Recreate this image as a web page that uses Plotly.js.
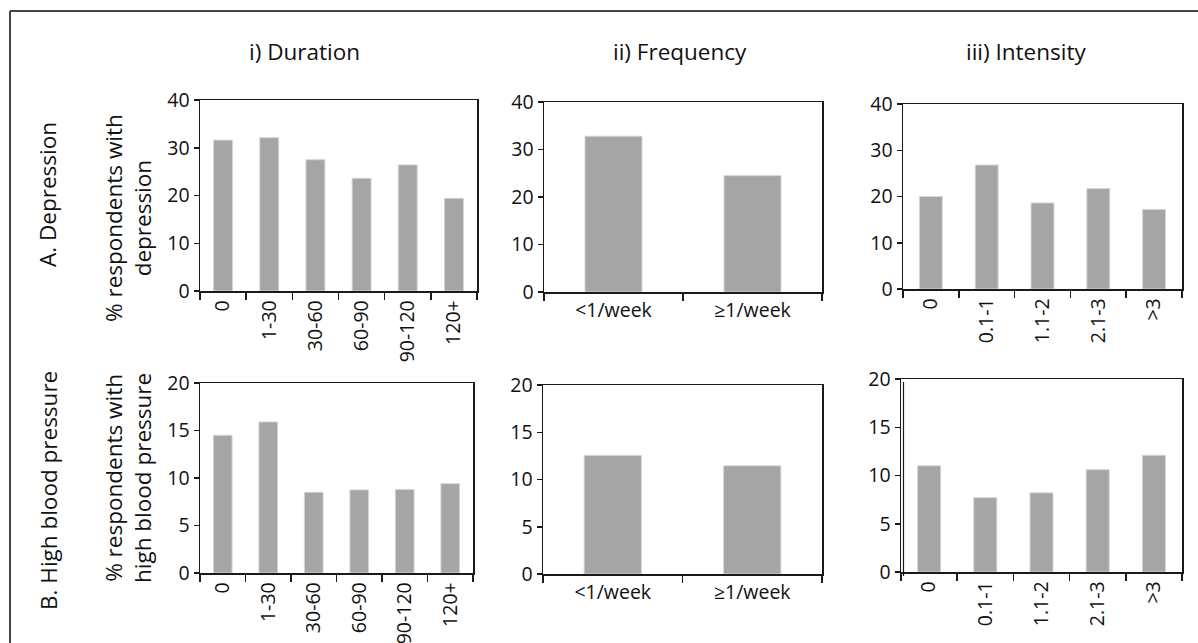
<!DOCTYPE html>
<html>
<head>
<meta charset="utf-8">
<script src="https://cdn.plot.ly/plotly-3.0.1.min.js"></script>
<style>html,body{margin:0;padding:0;background:#fff}#chart{width:1198px;height:643px}</style>
</head>
<body>
<div id="chart"></div>
<script>
// ---- data ----
const durationCats = ["0", "1-30", "30-60", "60-90", "90-120", "120+"];
const frequencyCats = ["<1/week", "≥1/week"];
const intensityCats = ["0", "0.1-1", "1.1-2", "2.1-3", ">3"];

const depDuration = [31.6, 32.1, 27.5, 23.6, 26.4, 19.4];
const depFrequency = [32.8, 24.5];
const depIntensity = [20.0, 26.8, 18.6, 21.7, 17.2];

const bpDuration = [14.5, 15.9, 8.5, 8.75, 8.8, 9.4];
const bpFrequency = [12.55, 11.45];
const bpIntensity = [11.0, 7.7, 8.2, 10.6, 12.1];

const colTitles = ["i) Duration", "ii) Frequency", "iii) Intensity"];
const rowTitles = ["A. Depression", "B. High blood pressure"];
const yTitles = ["% respondents with<br>depression", "% respondents with<br>high blood pressure"];
const yTicksA = [0, 10, 20, 30, 40];
const yTicksB = [0, 5, 10, 15, 20];

// ---- layout helpers ----
const W = 1198, H = 643;
const px = x => x / W;
const py = y => 1 - y / H;
const tickFont = {family: "Open Sans, sans-serif", size: 19.5, color: "#111"};
const barColor = "#a5a5a5";

function bars(cats, vals, i) {
  return {
    type: "bar", x: cats, y: vals,
    xaxis: "x" + (i === 1 ? "" : i), yaxis: "y" + (i === 1 ? "" : i),
    marker: {color: barColor, line: {color: "#d4d4d4", width: 1}},
    hoverinfo: "x+y", showlegend: false
  };
}

const data = [
  bars(durationCats, depDuration, 1),
  bars(frequencyCats, depFrequency, 2),
  bars(intensityCats, depIntensity, 3),
  bars(durationCats, bpDuration, 4),
  bars(frequencyCats, bpFrequency, 5),
  bars(intensityCats, bpIntensity, 6)
];

// pixel boxes [x0, x1, yTop, yBottom]
const boxes = [
  [200, 477, 100, 291],
  [544, 822, 102, 292],
  [903, 1182, 104, 289],
  [200, 473, 383, 573],
  [543, 822, 385, 574],
  [901, 1182, 379, 572]
];
const cats = [durationCats, frequencyCats, intensityCats, durationCats, frequencyCats, intensityCats];

const layout = {
  width: W, height: H,
  margin: {l: 0, r: 0, t: 0, b: 0},
  paper_bgcolor: "#fff", plot_bgcolor: "#fff",
  bargap: 0.59,
  showlegend: false,
  annotations: [],
  shapes: [
    {type: "line", xref: "paper", yref: "paper", x0: px(10), x1: px(1198), y0: py(11), y1: py(11), line: {color: "#444", width: 2}},
    {type: "line", xref: "paper", yref: "paper", x0: px(10), x1: px(10), y0: py(11), y1: py(643), line: {color: "#444", width: 2}},
    {type: "line", xref: "paper", yref: "paper", x0: px(903.5), x1: px(903.5), y0: py(382), y1: py(576), line: {color: "#1a1a1a", width: 1.2}}
  ]
};

boxes.forEach((b, k) => {
  const i = k + 1;
  const sfx = i === 1 ? "" : String(i);
  const isA = k < 3;
  const isFreq = (k % 3) === 1;
  layout["xaxis" + sfx] = {
    domain: [px(b[0]), px(b[1])],
    anchor: "y" + sfx,
    type: "category",
    range: [-0.5, cats[k].length - 0.5],
    showline: true, linecolor: "#1a1a1a", linewidth: 1.5, mirror: true,
    ticks: "outside", tickson: "boundaries", ticklen: 7, tickcolor: "#1a1a1a", tickwidth: 1.5,
    tickangle: isFreq ? 0 : -90,
    tickfont: tickFont,
    showgrid: false, zeroline: false, fixedrange: true
  };
  layout["yaxis" + sfx] = {
    domain: [py(b[3]), py(b[2])],
    anchor: "x" + sfx,
    range: isA ? [0, 40] : [0, 20],
    tickvals: isA ? yTicksA : yTicksB,
    showline: true, linecolor: "#1a1a1a", linewidth: 1.5, mirror: true,
    ticks: "outside", ticklen: 5, tickcolor: "#1a1a1a", tickwidth: 1.5,
    tickfont: tickFont,
    showgrid: false, zeroline: false, fixedrange: true
  };
});

const titleFont = {family: "Open Sans, sans-serif", size: 22.5, color: "#111"};
const colX = [304, 680, 1026];
colTitles.forEach((t, j) => {
  layout.annotations.push({text: t, xref: "paper", yref: "paper", x: px(colX[j]), y: py(52),
    xanchor: "center", yanchor: "middle", showarrow: false, font: titleFont});
});
const rowY = [195, 491];
rowTitles.forEach((t, j) => {
  layout.annotations.push({text: t, xref: "paper", yref: "paper", x: px(48), y: py(rowY[j]),
    xanchor: "center", yanchor: "middle", showarrow: false, textangle: -90, font: titleFont});
});
const yTitleY = [218, 478];
yTitles.forEach((t, j) => {
  layout.annotations.push({text: t, xref: "paper", yref: "paper", x: px(128), y: py(yTitleY[j]),
    xanchor: "center", yanchor: "middle", showarrow: false, textangle: -90, font: titleFont});
});

Plotly.newPlot("chart", data, layout, {displayModeBar: false, staticPlot: true});
</script>
</body>
</html>
